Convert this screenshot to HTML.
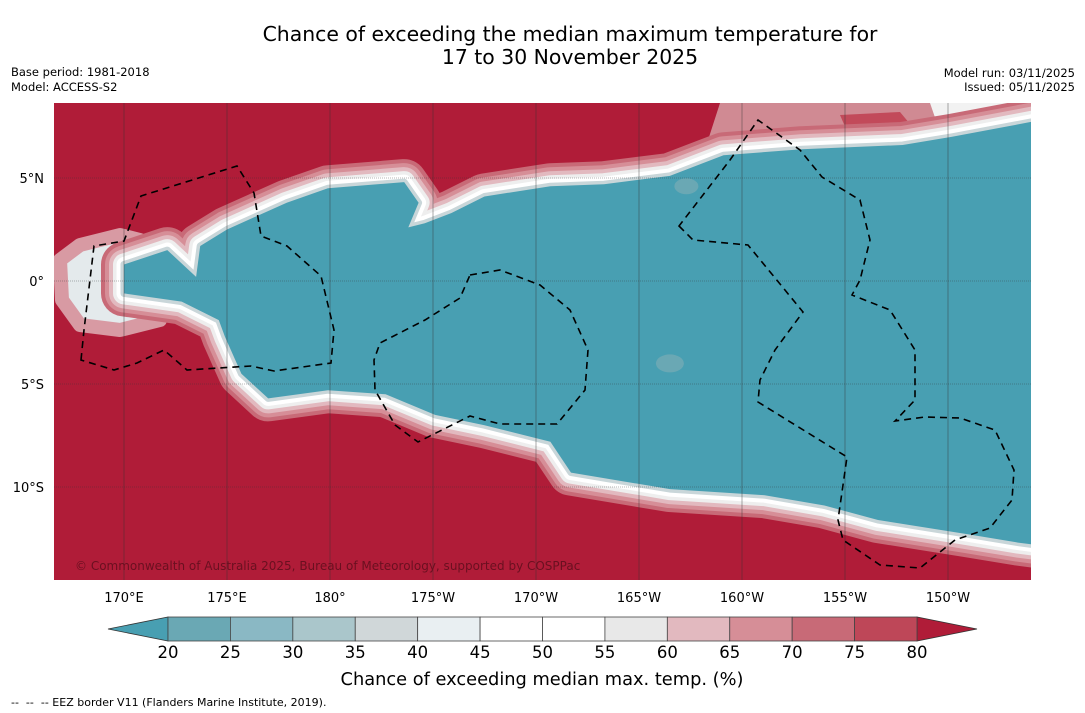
<!DOCTYPE html>
<html><head><meta charset="utf-8">
<style>
body{margin:0;background:#fff;width:1085px;height:713px;overflow:hidden;font-family:"DejaVu Sans","Liberation Sans",sans-serif;}
svg{display:block}
</style></head>
<body>
<svg id="chart" width="1085" height="713" xmlns="http://www.w3.org/2000/svg" font-family="DejaVu Sans, Liberation Sans, sans-serif">
<text x="570" y="41" font-size="20.4" text-anchor="middle" fill="#000">Chance of exceeding the median maximum temperature for</text>
<text x="570" y="64" font-size="20.4" text-anchor="middle" fill="#000">17 to 30 November 2025</text>
<text x="11" y="76" font-size="11.5">Base period: 1981-2018</text>
<text x="11" y="91" font-size="11.5">Model: ACCESS-S2</text>
<text x="1075" y="77" font-size="11.5" text-anchor="end">Model run: 03/11/2025</text>
<text x="1075" y="91" font-size="11.5" text-anchor="end">Issued: 05/11/2025</text>
<defs><clipPath id="mapclip"><rect x="54" y="103" width="977" height="477"/></clipPath></defs>
<g id="map" clip-path="url(#mapclip)">
<rect x="54" y="103" width="977" height="477" fill="#b01c38"/>
<path d="M720,103 L1031,103 L1031,150 L700,165 Z" fill="#d08a93"/>
<path d="M840,115 L900,112 L915,130 L850,138 Z" fill="#c24a5a"/>
<path d="M930,103 L1031,103 L1031,125 L940,132 Z" fill="#f2f2f2"/>
<path d="M60,260 L80,245 L120,235 L140,240 L150,270 L170,290 L160,320 L120,330 L80,325 L62,300 Z" fill="#e4eaec" stroke="#d89aa3" stroke-width="14" stroke-linejoin="round"/>
<g id="band"></g>
<g id="grid"></g>
<g id="eez" fill="none" stroke="#000" stroke-width="1.6" stroke-dasharray="7,5">
<path d="M81,360 L84,330 L94,246 L124,241 L141,196 L237,166 L254,193 L261,236 L287,246 L321,276 L334,330 L331,363 L274,371 L251,366 L187,370 L164,350 L137,363 L114,370 Z"/>
<path d="M470,275 L500,270 L540,285 L570,310 L588,350 L585,390 L557,424 L500,424 L470,416 L418,442 L395,425 L375,390 L374,360 L380,343 L425,320 L460,298 Z"/>
<path d="M679,226 L693,240 L748,245 L803,312 L775,350 L760,380 L758,402 L847,457 L838,520 L843,540 L880,565 L920,568 L955,540 L990,528 L1012,500 L1014,470 L995,430 L960,418 L925,417 L895,421 L915,400 L915,350 L890,310 L852,295 L860,280 L870,240 L860,200 L822,177 L800,150 L758,120 L730,160 Z"/>
</g>
<text x="75" y="570" font-size="12" fill="#6a1020">© Commonwealth of Australia 2025, Bureau of Meteorology, supported by COSPPac</text>
</g>
<g id="axes"></g>
<g id="colorbar"></g>
<text x="542" y="685" font-size="17.8" text-anchor="middle">Chance of exceeding median max. temp. (%)</text>
<text x="11" y="706" font-size="11" style="white-space:pre">--  --  -- EEZ border V11 (Flanders Marine Institute, 2019).</text>
</svg>
<script>
const lonTicks=[170,175,180,185,190,195,200,205,210];
const lonLabels=["170°E","175°E","180°","175°W","170°W","165°W","160°W","155°W","150°W"];
const latTicks=[5,0,-5,-10];
const latLabels=["5°N","0°","5°S","10°S"];
const levels=[20,25,30,35,40,45,50,55,60,65,70,75,80];
const binColors=["#6aa8b4","#8ab8c4","#aac6cb","#d0d7d9","#e9eff2","#ffffff","#ffffff","#e8e8e8","#e2b9bf","#d68e97","#c86a77","#be4758"];
const lowColor="#489fb2", highColor="#b01c38";
// teal band outline, [lon(E, 0-360), lat]
const bandLon=[173.7,175,177.9,179.9,183.6,184.3,183.8,184.6,185.9,187.5,190.7,193.3,196.5,199.1,202.9,207.8,210.2,213.4,216.5,216.5,213.4,211,206.6,204,201.1,196.5,191.7,190.7,187.5,185.1,182.7,179.9,177,175.7,174.9,174.6,172.8,170,170,172.1,173.5];
const bandLat=[1.7,2.5,3.8,4.5,4.8,3.8,2.6,2.8,3.3,4.1,4.6,4.7,5.1,6.1,6.4,6.6,7.0,7.6,8.2,-13.1,-12.7,-12.3,-11.6,-10.9,-10.4,-10.1,-9.3,-7.8,-7.0,-6.5,-5.5,-5.3,-5.7,-4.5,-2.7,-1.9,-1.0,-0.6,0.8,1.5,0.2];
const ns="http://www.w3.org/2000/svg";
function x(lon){return 124+(lon-170)*20.6;}
function y(lat){return 281-lat*20.6;}
function mk(tag,attrs,parent){const e=document.createElementNS(ns,tag);for(const k in attrs)e.setAttribute(k,attrs[k]);parent.appendChild(e);return e;}
const band=document.getElementById('band');
let d="M"+bandLon.map((lo,i)=>x(lo).toFixed(1)+","+y(bandLat[i]).toFixed(1)).join(" L")+" Z";
const layers=[["#c86a77",46],["#d68e97",38],["#e2b9bf",30],["#eeeeee",22],["#ffffff",15],["#c9d6d9",7]];
layers.forEach(([c,w],i)=>{
 const p=mk('path',{d:d,fill:"none",stroke:c,"stroke-width":w,"stroke-linejoin":"round"},band);
 
 
});
const core=mk('path',{d:d,fill:lowColor},band);


const patch1=mk('ellipse',{cx:x(196.5),cy:y(-4),rx:14,ry:9,fill:"#6aa8b4"},band);


const patch2=mk('ellipse',{cx:x(197.3),cy:y(4.6),rx:12,ry:8,fill:"#6aa8b4"},band);


const grid=document.getElementById('grid'),axes=document.getElementById('axes');
lonTicks.forEach((lo,i)=>{
 const l=mk('line',{x1:x(lo),x2:x(lo),y1:103,y2:580,stroke:"#333","stroke-width":0.6,"stroke-opacity":0.7},grid);
 
 
 const t=mk('text',{x:x(lo),y:602,"font-size":13,"text-anchor":"middle"},axes);
 t.textContent=lonLabels[i];
 
 
});
latTicks.forEach((la,i)=>{
 const l=mk('line',{x1:54,x2:1031,y1:y(la),y2:y(la),stroke:"#333","stroke-width":0.6,"stroke-opacity":0.7,"stroke-dasharray":"1,1"},grid);
 
 
 const t=mk('text',{x:44,y:y(la)+5,"font-size":13,"text-anchor":"end"},axes);
 t.textContent=latLabels[i];
 
 
});
const cb=document.getElementById('colorbar');
const cx0=168,cx1=917,cy=617,ch=24;
function cbx(v){return cx0+(v-levels[0])/(levels[levels.length-1]-levels[0])*(cx1-cx0);}
const lt=mk('polygon',{points:`108,${cy+ch/2} ${cx0},${cy} ${cx0},${cy+ch}`,fill:lowColor,stroke:"#333","stroke-width":0.8},cb);


const rt=mk('polygon',{points:`977,${cy+ch/2} ${cx1},${cy} ${cx1},${cy+ch}`,fill:highColor,stroke:"#333","stroke-width":0.8},cb);


binColors.forEach((c,i)=>{
 const r=mk('rect',{x:cbx(levels[i]),y:cy,width:cbx(levels[i+1])-cbx(levels[i]),height:ch,fill:c,stroke:"#444","stroke-width":0.8},cb);
 
 
});
levels.forEach(v=>{
 const t=mk('text',{x:cbx(v),y:658,"font-size":16.5,"text-anchor":"middle"},cb);
 t.textContent=v;
 
 
});
</script>
</body></html>
